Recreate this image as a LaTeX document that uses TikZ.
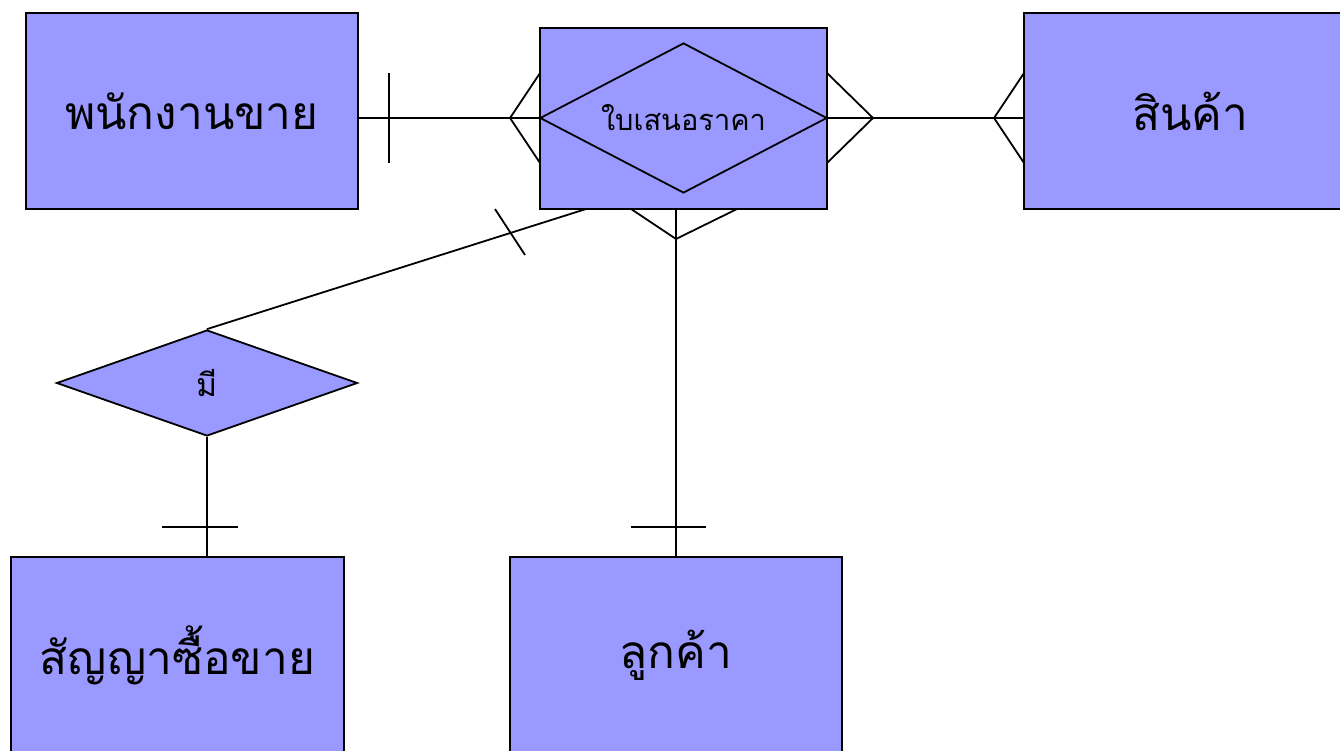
\documentclass[tikz,border=0pt]{standalone}
\usepackage{fontspec}
\newfontfamily\thaifont[Script=Thai]{Loma}
\usetikzlibrary{shapes.geometric}
\definecolor{entfill}{HTML}{9999FF}
\begin{document}
\begin{tikzpicture}[x=1pt,y=-1pt,
  line width=1.8pt,
  entity/.style={draw=black,fill=entfill,rectangle,inner sep=0pt,
    minimum width=332pt,minimum height=196pt,font=\thaifont\fontsize{46}{50}\selectfont},
  rel/.style={draw=black,fill=entfill,diamond,inner sep=0pt},
  label/.style={inner sep=0pt,font=\thaifont\fontsize{29}{33}\selectfont},
  link/.style={draw=black,line width=1.8pt}]
\useasboundingbox (0,0) rectangle (1340,751);
\clip (0,0) rectangle (1340,751);
\fill[white] (0,0) rectangle (1340,751);

% entities
\node[entity] (emp) at (192,111) {พนักงานขาย};
\node[entity,minimum width=333pt] (prod) at (1190.5,111) {สินค้า};
\node[entity,minimum width=333pt] (contract) at (177.5,655) {สัญญาซื้อขาย};
\node[entity] (cust) at (676,655) {ลูกค้า};

% associative entity with its diamond
\node[entity,minimum width=287pt,minimum height=181pt] (quote) at (683.5,118.5) {};
\node[rel,fill=none,minimum width=287pt,minimum height=150pt] (quoted) at (683.5,118) {};
\node[label] (quotetext) at (quoted.center) {ใบเสนอราคา};

% relationship
\node[rel,minimum width=301pt,minimum height=106pt] (has) at (207,383) {};
\node[label,font=\thaifont\fontsize{32}{36}\selectfont] (hastext) at (has.center) {มี};

% salesperson -- quote: one on salesperson side, many on quote side
\coordinate (q-w) at (540,118);
\coordinate (e-e) at (358,118);
\draw[link] (e-e) -- (q-w);
\draw[link] (389,73) -- (389,163);
\coordinate (cf1) at (510,118);
\draw[link] (540,73) -- (cf1) -- (540,163);

% quote -- product: many on both sides
\coordinate (q-e) at (827,118);
\coordinate (p-w) at (1024,118);
\draw[link] (q-e) -- (p-w);
\coordinate (cf2) at (873,118);
\draw[link] (827,73) -- (cf2) -- (827,163);
\coordinate (cf3) at (994,118);
\draw[link] (1024,73) -- (cf3) -- (1024,163);

% quote -- customer
\coordinate (q-s) at (676,209);
\draw[link] (q-s) -- (cust.north -| q-s);
\coordinate (cf4) at (676,239);
\draw[link] (631,209) -- (cf4) -- (737,209);
\draw[link] (631,527) -- (706,527);

% quote -- has -- contract
\coordinate (q-sw) at (586,209);
\draw[link] (q-sw) -- (has.north);
\draw[link] (495,209) -- (525,255);
\draw[link] (has.south) -- (contract.north -| has.south);
\draw[link] (162,527) -- (238,527);
\end{tikzpicture}
\end{document}
